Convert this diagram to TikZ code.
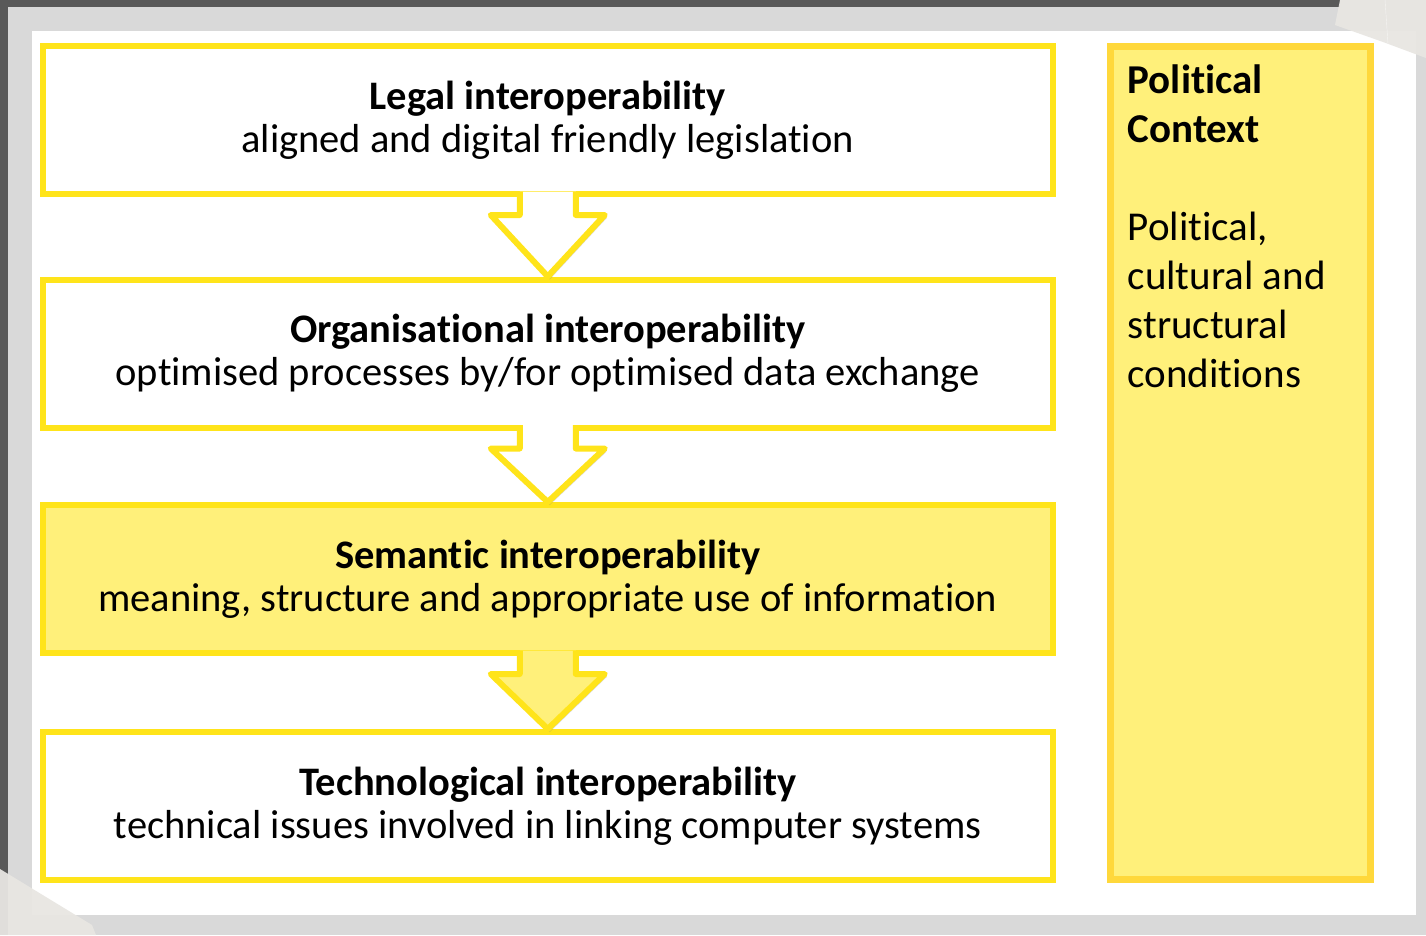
\documentclass[tikz,border=0pt]{standalone}
\usepackage{fontspec}
\setmainfont{Carlito}[Ligatures=NoCommon]
\usetikzlibrary{calc, positioning, shadows}

\definecolor{framegray}{HTML}{595959}
\definecolor{papergray}{HTML}{D9D9D9}
\definecolor{lineyellow}{HTML}{FFE41A}
\definecolor{paleyellow}{HTML}{FFF07A}
\definecolor{goldyellow}{HTML}{FFD83B}
\definecolor{tapegray}{HTML}{E8E6E2}

\tikzset{
    softshadow/.style={drop shadow={shadow xshift=2pt, shadow yshift=-3pt, opacity=0.3}},
    layerbox/.style={draw=lineyellow, line width=6pt, fill=white, softshadow,
        minimum width=1010.5pt, minimum height=148pt, inner sep=0pt,
        align=center, font=\fontsize{40.5}{43}\selectfont},
    contextbox/.style={draw=goldyellow, line width=7pt, fill=paleyellow, softshadow,
        minimum width=259.5pt, minimum height=833pt, inner sep=0pt},
    layerarrow/.style={draw=lineyellow, line width=6pt, line join=round, softshadow},
}

% arrow from one layer box down to the next
\newcommand{\layerarrow}[3]{%
    \filldraw[layerarrow, fill=#3] let \p1=(#1.south), \p2=(#2.north) in
        (\x1-28pt,\y1+5.5pt) -- (\x1-28pt,\y1-18pt) -- (\x1-57pt,\y1-18pt) -- (\x1,\y2)
        -- (\x1+57pt,\y1-18pt) -- (\x1+28pt,\y1-18pt) -- (\x1+28pt,\y1+5.5pt);
}

\begin{document}
\begin{tikzpicture}[x=1pt, y=-1pt]

\useasboundingbox (0,0) rectangle (1426,935);

% backdrop
\fill[papergray] (0,0) rectangle (1426,935);
\fill[framegray] (0,0) rectangle (1340,7);
\fill[framegray] (0,0) rectangle (8,935);
\fill[white] (32,31) rectangle (1416,915);

% layers
\node[layerbox] (legal) at (547.75,120)
    {\textbf{Legal interoperability}\\aligned and digital friendly legislation};
\node[layerbox] (organisational) at (547.75,353.5)
    {\textbf{Organisational interoperability}\\optimised processes by/for optimised data exchange};
\node[layerbox, fill=paleyellow] (semantic) at (547.75,579)
    {\textbf{Semantic interoperability}\\meaning, structure and appropriate use of information};
\node[layerbox] (technological) at (547.75,806)
    {\textbf{Technological interoperability}\\technical issues involved in linking computer systems};

\layerarrow{legal}{organisational}{white}
\layerarrow{organisational}{semantic}{white}
\layerarrow{semantic}{technological}{paleyellow}

% political context
\node[contextbox] (context) at (1240.25,462.5) {};
\node[below right=22pt and 20.5pt of context.north west, anchor=north west, inner sep=0pt,
    align=left, font=\fontsize{41}{49}\selectfont] (contexttext)
    {\textbf{Political}\\\textbf{Context}\\[49pt]Political,\\cultural and\\structural\\conditions};

% tape
\fill[tapegray, opacity=0.95] (1340,0) -- (1426,0) -- (1426,58) -- (1383,42) -- (1335,25) -- cycle;
\draw[white, opacity=0.6] (1385,0) -- (1388,44);
\fill[tapegray, opacity=0.95] (0,869) -- (92,925) -- (96,935) -- (0,935) -- cycle;

\end{tikzpicture}
\end{document}
